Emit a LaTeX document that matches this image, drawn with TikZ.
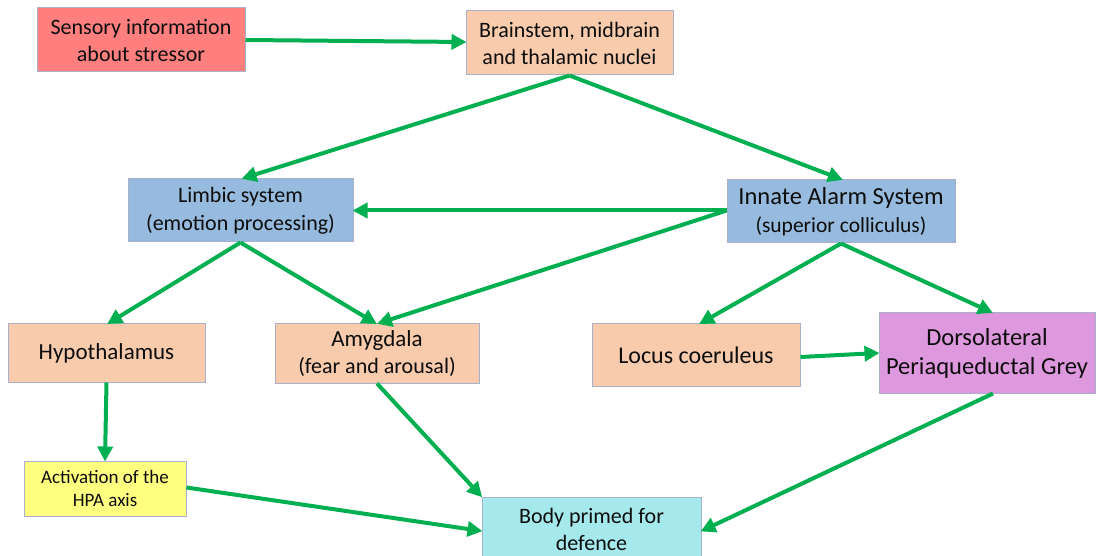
\documentclass[tikz,border=0pt]{standalone}
\usepackage{fontspec}
\setmainfont{Carlito}
\usetikzlibrary{arrows.meta}
\definecolor{boxline}{HTML}{A9B0CC}
\definecolor{redfill}{HTML}{FF7F7F}
\definecolor{peachfill}{HTML}{F8CBAD}
\definecolor{bluefill}{HTML}{97BBDE}
\definecolor{violetfill}{HTML}{DE98DE}
\definecolor{yellowfill}{HTML}{FFFF80}
\definecolor{cyanfill}{HTML}{A6E9EC}
\definecolor{arrowgreen}{HTML}{00B050}
\tikzset{
  box/.style={draw=boxline, line width=1pt, rectangle, align=center, inner sep=0pt,
    text=black!95, font=\fontsize{22}{27}\selectfont},
  flow/.style={draw=arrowgreen, line width=4pt,
    -{Triangle[length=15pt,width=15pt]}, shorten >=-1pt}
}
\begin{document}
\begin{tikzpicture}[x=1pt,y=-1pt]
\useasboundingbox (0,0) rectangle (1096,556);
% boxes
\node[box, fill=redfill, minimum width=208pt, minimum height=64pt] (sens) at (141,40)
  {Sensory information\\about stressor};
\node[box, fill=peachfill, minimum width=207pt, minimum height=64pt] (brain) at (569.5,43)
  {Brainstem, midbrain\\and thalamic nuclei};
\node[box, fill=bluefill, minimum width=225pt, minimum height=63pt, font=\fontsize{22}{28}\selectfont] (limb) at (240.5,210.5)
  {Limbic system\\(emotion processing)};
\node[box, fill=bluefill, minimum width=228pt, minimum height=63pt, font=\fontsize{21.5}{28}\selectfont] (alarm) at (841,211.5)
  {{\fontsize{24.5}{28}\selectfont Innate Alarm System}\\(superior colliculus)};
\node[box, fill=peachfill, minimum width=197pt, minimum height=58pt, font=\fontsize{23}{27}\selectfont] (hypo) at (106.5,353)
  {Hypothalamus};
\node[box, fill=peachfill, minimum width=204pt, minimum height=59pt] (amyg) at (377,353.5)
  {{\fontsize{23}{27}\selectfont Amygdala}\\(fear and arousal)};
\node[box, fill=peachfill, minimum width=208pt, minimum height=62pt, font=\fontsize{24}{27}\selectfont] (locus) at (696,355)
  {Locus coeruleus};
\node[box, fill=violetfill, minimum width=216pt, minimum height=80pt, font=\fontsize{24.5}{29}\selectfont] (dpg) at (987,353)
  {Dorsolateral\\Periaqueductal Grey};
\node[box, fill=yellowfill, minimum width=162pt, minimum height=55pt, font=\fontsize{19}{23}\selectfont] (hpa) at (105,488.5)
  {Activation of the\\HPA axis};
\node[box, fill=cyanfill, minimum width=219pt, minimum height=64pt] (body) at (591.5,529)
  {Body primed for\\defence};
% connectors
\coordinate (brainbot) at (brain.south);
\coordinate (limbbot) at (limb.south);
\coordinate (alarmbot) at (alarm.south);
\coordinate (alarmleft) at ([yshift=1pt]alarm.west);
\draw[flow] (sens.east) -- ([yshift=1pt]brain.west);
\draw[flow] (brainbot) -- ([xshift=2pt]limb.north);
\draw[flow] (brainbot) -- ([xshift=1pt]alarm.north);
\draw[flow] (alarmleft) -- (limb.east);
\draw[flow] (alarmleft) -- ([xshift=1pt]amyg.north);
\draw[flow] (limbbot) -- ([xshift=1.5pt]hypo.north);
\draw[flow] (limbbot) -- ([xshift=-1pt]amyg.north);
\draw[flow] (alarmbot) -- ([xshift=4pt]locus.north);
\draw[flow] (alarmbot) -- ([xshift=5pt]dpg.north);
\draw[flow] ([yshift=-2pt]locus.east) -- (dpg.west);
\draw[flow] (hypo.south) -- (hpa.north);
\draw[flow] (amyg.south) -- (body.north west);
\draw[flow] ([yshift=1pt]hpa.east) -- ([yshift=-2pt]body.west);
\draw[flow] ([xshift=6pt]dpg.south) -- ([yshift=-2pt]body.east);
\end{tikzpicture}
\end{document}
